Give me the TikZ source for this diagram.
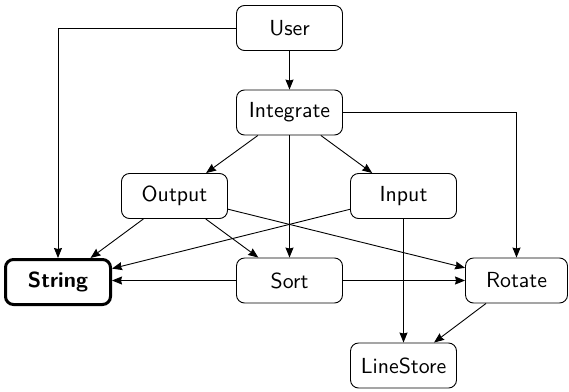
\documentclass[tikz,border=0pt]{standalone}
\usetikzlibrary{arrows.meta}
\newcommand\bigtxt[1]{\scalebox{2.18}{\sffamily\fontsize{10}{12}\selectfont #1}}
\begin{document}
\begin{tikzpicture}[x=1pt,y=-1pt,
  box/.style={draw,rounded corners=8pt,line width=0.9pt,minimum width=106pt,minimum height=45pt,inner sep=0pt},
  strongbox/.style={box,line width=3pt},
  conn/.style={line width=0.9pt,-{Stealth[length=10pt,width=8pt,inset=1pt]}}]
\useasboundingbox (0,0) rectangle (569,391);
\node[box] (user) at (289.5,28) {\bigtxt{User}};
\node[box] (integrate) at (289.5,112.5) {\bigtxt{Integrate}};
\node[box] (output) at (174.5,196) {\bigtxt{Output}};
\node[box] (input) at (403.5,196) {\bigtxt{Input}};
\node[strongbox,minimum width=105pt,minimum height=45pt] (string) at (58,282) {\bigtxt{\bfseries String}};
\node[box] (sort) at (289.5,280.5) {\bigtxt{Sort}};
\node[box,minimum width=102pt] (rotate) at (516.5,280.5) {\bigtxt{Rotate}};
\node[box] (linestore) at (403.5,365.5) {\bigtxt{LineStore}};
\draw[conn] (user.west) -| (string.north);
\draw[conn] (user) -- (integrate);
\draw[conn] (integrate.east) -| (rotate.north);
\draw[conn] (integrate) -- (output);
\draw[conn] (integrate) -- (input);
\draw[conn] (integrate) -- (sort);
\draw[conn] (output) -- (string);
\draw[conn] (output) -- (sort);
\draw[conn] (output) -- (rotate);
\draw[conn] (input) -- (string);
\draw[conn] (input) -- (linestore);
\draw[conn] (sort.west) -- (string.east |- sort.west);
\draw[conn] (sort) -- (rotate);
\draw[conn] (rotate) -- (linestore);
\end{tikzpicture}
\end{document}
